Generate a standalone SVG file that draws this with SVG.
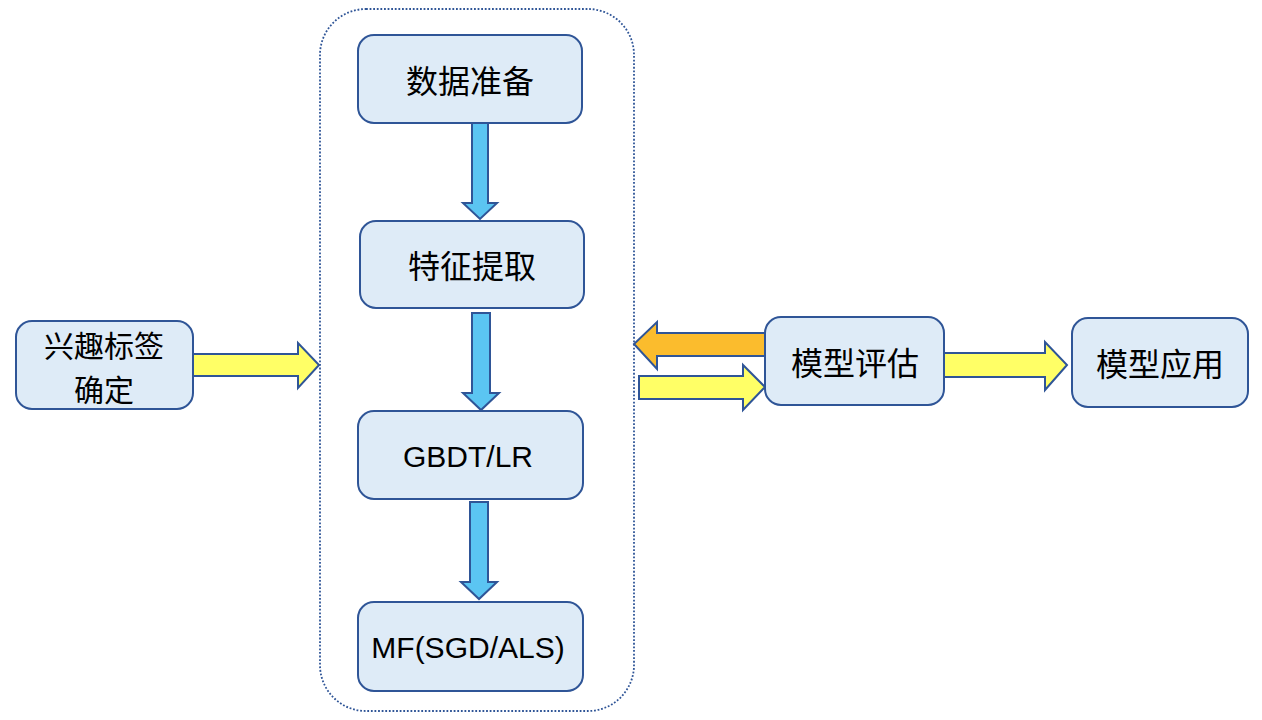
<svg xmlns="http://www.w3.org/2000/svg" width="1262" height="720" viewBox="0 0 1262 720">
<style>
.node{fill:#DEEBF7;stroke:#2F5597;stroke-width:2}
.t{font-family:"Noto Sans CJK SC","Liberation Sans",sans-serif;font-size:32px;fill:#000;text-anchor:middle;dominant-baseline:central}
.l{font-family:"Liberation Sans","Noto Sans CJK SC",sans-serif;font-size:30px;fill:#000;text-anchor:middle;dominant-baseline:central}
.blue{fill:#5BC5F2;stroke:#2F5597;stroke-width:2;stroke-linejoin:miter}
.yel{fill:#FFFF66;stroke:#2F5597;stroke-width:2}
.org{fill:#FBBC2D;stroke:#2F5597;stroke-width:2}
</style>
<rect width="1262" height="720" fill="#fff"/>
<rect id="container" x="320" y="9" width="314" height="702" rx="46" fill="none" stroke="#2F5597" stroke-width="1.8" stroke-dasharray="1.8 1.8"/>
<g id="connectors">
<polygon class="blue" points="472,123 488,123 488,203 497,203 480,219 463,203 472,203"/>
<polygon class="blue" points="472,313 490,313 490,393 499,393 481,410 463,393 472,393"/>
<polygon class="blue" points="470,502 488,502 488,582 497,582 479,599 461,582 470,582"/>
<polygon class="yel" points="193,354 298,354 298,343 319,365 298,388 298,376 193,376"/>
<polygon class="org" points="766,333 657,333 657,322 634,344 657,369 657,356 766,356"/>
<polygon class="yel" points="639,376 743,376 743,365 765,387 743,410 743,399 639,399"/>
<polygon class="yel" points="944,353 1045,353 1045,342 1067,365 1045,390 1045,377 944,377"/>
</g>
<g id="n1"><rect class="node" x="358" y="35" width="224" height="88" rx="16"/><text class="t" x="470" y="79">数据准备</text></g>
<g id="n2"><rect class="node" x="360" y="221" width="224" height="87" rx="16"/><text class="t" x="472" y="264">特征提取</text></g>
<g id="n3"><rect class="node" x="358" y="411" width="225" height="88" rx="16"/><text class="l" x="468" y="456">GBDT/LR</text></g>
<g id="n4"><rect class="node" x="358" y="602" width="225" height="89" rx="16"/><text class="l" x="468" y="647">MF(SGD/ALS)</text></g>
<g id="n5"><rect class="node" x="16" y="321" width="177" height="88" rx="16"/><text class="t" style="font-size:30px" x="104" y="344">兴趣标签</text><text class="t" style="font-size:30px" x="104" y="388">确定</text></g>
<g id="n6"><rect class="node" x="765" y="317" width="179" height="88" rx="16"/><text class="t" x="855" y="361">模型评估</text></g>
<g id="n7"><rect class="node" x="1072" y="318" width="176" height="89" rx="16"/><text class="t" x="1160" y="362">模型应用</text></g>
</svg>
